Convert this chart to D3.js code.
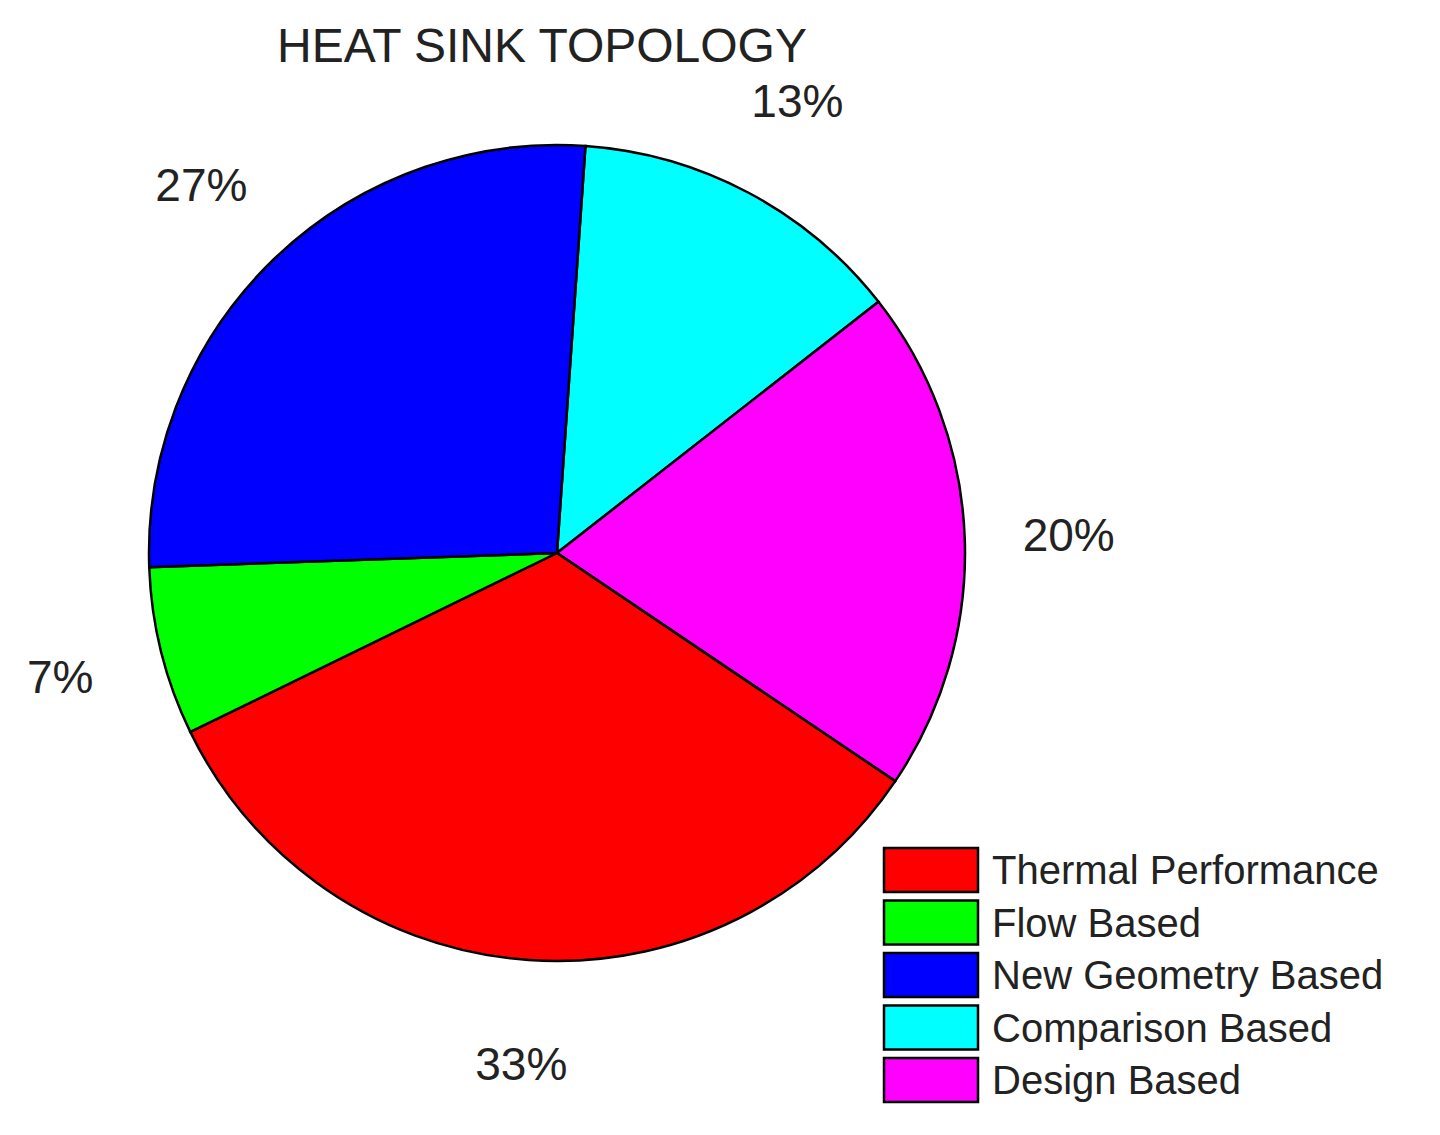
<!DOCTYPE html><html><head><meta charset="utf-8">
<script src="https://cdn.jsdelivr.net/npm/d3@7"></script>
<style>body{margin:0;background:#fff}</style></head><body>
<svg id="c" width="1440" height="1135"></svg>
<script>
const categories=["Comparison Based","Design Based","Thermal Performance","Flow Based","New Geometry Based"];
const values=[2,3,5,1,4];
const colors=["#00ffff","#ff00ff","#ff0000","#00ff00","#0000ff"];
const labels=["13%","20%","33%","7%","27%"];
const legendOrder=["Thermal Performance","Flow Based","New Geometry Based","Comparison Based","Design Based"];
const svg=d3.select("#c");
const cx=557,cy=553,r=408,lr=512;
const start=4*Math.PI/180;
const pie=d3.pie().sort(null).value(d=>d).startAngle(start).endAngle(start+2*Math.PI);
const arcs=pie(values);
const arc=d3.arc().innerRadius(0).outerRadius(r);
const g=svg.append("g").attr("transform",`translate(${cx},${cy})`);
g.selectAll("path").data(arcs).join("path").attr("d",arc).attr("fill",(d,i)=>colors[i]).attr("stroke","#000").attr("stroke-width",2.5);
const la=d3.arc().innerRadius(lr).outerRadius(lr);
g.selectAll("text").data(arcs).join("text").attr("transform",d=>`translate(${la.centroid(d)})`)
 .attr("text-anchor","middle").attr("dy","0.35em").attr("font-family","Liberation Sans, Arial").attr("font-size",46).attr("fill","#222").text((d,i)=>labels[i]);
svg.append("text").attr("x",542).attr("y",62).attr("text-anchor","middle").attr("font-family","Liberation Sans, Arial").attr("font-size",48).attr("fill","#222").text("HEAT SINK TOPOLOGY");
const lg=svg.append("g");
legendOrder.forEach((n,i)=>{
 const y=848+i*52.5;
 lg.append("rect").attr("x",884).attr("y",y).attr("width",94).attr("height",44).attr("fill",colors[categories.indexOf(n)]).attr("stroke","#000").attr("stroke-width",2.5);
 lg.append("text").attr("x",992).attr("y",y+22).attr("dy","0.35em").attr("font-family","Liberation Sans, Arial").attr("font-size",40).attr("fill","#222").text(n);
});
</script></body></html>
